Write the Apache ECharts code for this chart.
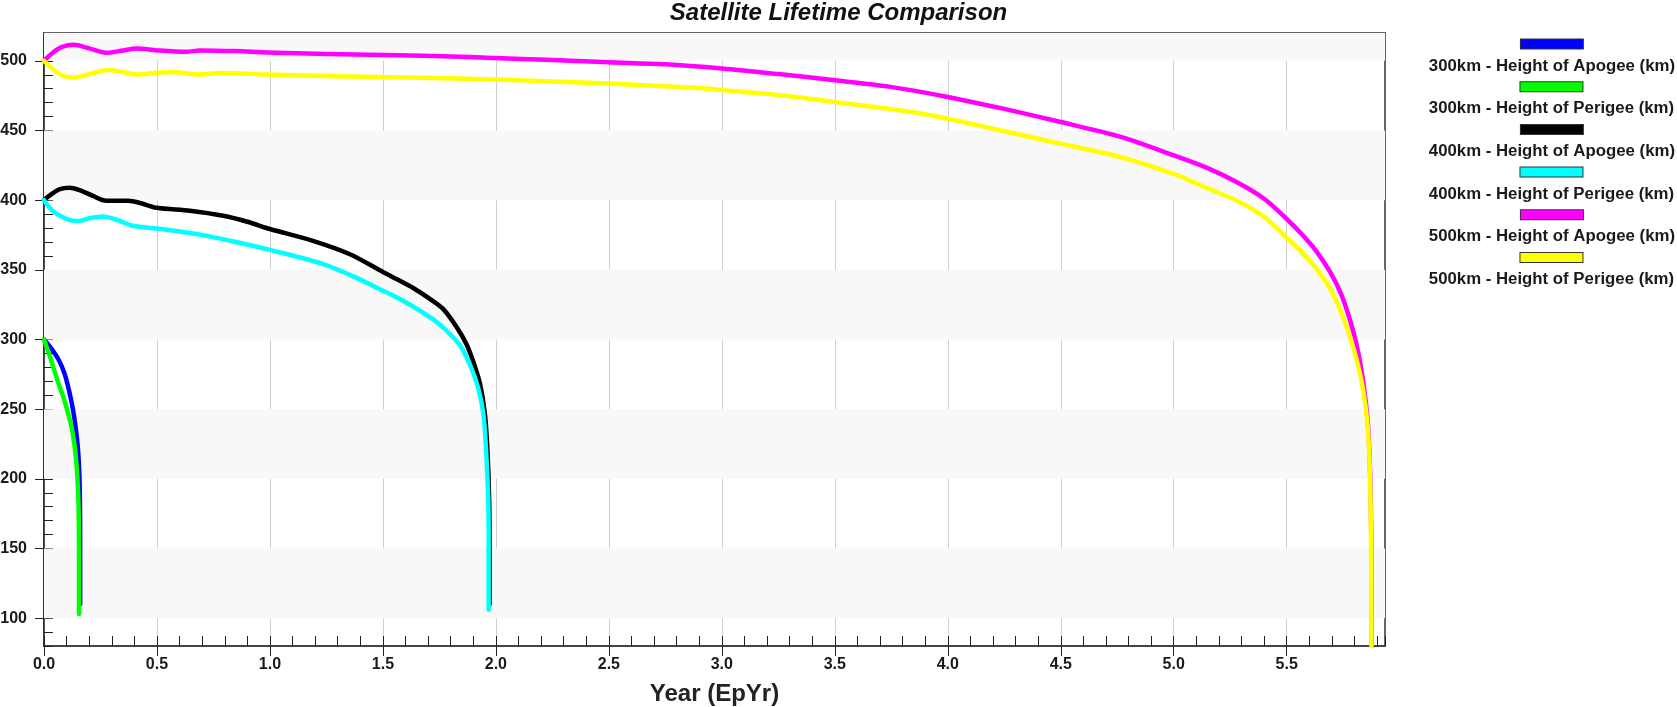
<!DOCTYPE html>
<html><head><meta charset="utf-8">
<script src="https://cdn.jsdelivr.net/npm/echarts@6/dist/echarts.min.js"></script>
<style>html,body{margin:0;padding:0;background:#fff}#c{width:1677px;height:707px}</style>
</head><body><div id="c"></div>
<script>
const titleText = 'Satellite Lifetime Comparison';
const xAxisName = 'Year (EpYr)';
const seriesNames = [
  '300km - Height of Apogee (km)',
  '300km - Height of Perigee (km)',
  '400km - Height of Apogee (km)',
  '400km - Height of Perigee (km)',
  '500km - Height of Apogee (km)',
  '500km - Height of Perigee (km)'
];
const seriesColors = ['#0000ff', '#00ff00', '#000000', '#00ffff', '#ff00ff', '#ffff00'];

const yr300A  = [0, 0.03, 0.063, 0.09, 0.11, 0.128, 0.14, 0.15, 0.156, 0.159, 0.16, 0.16];
const alt300A = [300, 294, 286, 276, 264, 250, 237, 222, 205, 185, 160, 110];

const yr300P  = [0, 0.015, 0.03, 0.045, 0.065, 0.085, 0.105, 0.122, 0.135, 0.145, 0.151, 0.154, 0.155, 0.155];
const alt300P = [300, 293, 286, 278, 268, 259, 248, 237, 224, 208, 190, 170, 140, 103];

const yr400A  = [0, 0.03, 0.07, 0.115, 0.16, 0.218, 0.262, 0.3, 0.373, 0.425, 0.5, 0.646, 0.793, 0.9, 1.0, 1.19, 1.354, 1.5, 1.575, 1.634, 1.7, 1.767, 1.826, 1.87, 1.9, 1.93, 1.951, 1.962, 1.97, 1.972, 1.972];
const alt400A = [400, 404, 408, 409, 407, 403, 400, 399.6, 399.6, 398, 394.5, 392.4, 388.8, 384.5, 379.3, 370.8, 361.2, 348.5, 342.2, 337, 330, 321.8, 309, 296.6, 284, 268, 247, 222, 186, 150, 110];

const yr400P  = [0, 0.04, 0.1, 0.152, 0.2, 0.262, 0.32, 0.395, 0.5, 0.6, 0.72, 0.85, 1.0, 1.236, 1.4, 1.5, 1.575, 1.678, 1.75, 1.796, 1.84, 1.885, 1.922, 1.945, 1.956, 1.966, 1.968, 1.968];
const alt400P = [400, 392, 386.5, 385, 387, 388.3, 386, 381.6, 379.7, 377.5, 374.4, 370, 364.3, 354.1, 343, 335, 329, 319.2, 311, 304, 296, 282, 265, 246, 222, 186, 150, 106];

const yr500A  = [0, 0.04, 0.08, 0.131, 0.2, 0.28, 0.35, 0.41, 0.5, 0.63, 0.69, 0.85, 0.99, 1.25, 1.51, 1.845, 2.0, 2.22, 2.5, 2.75, 3.0, 3.25, 3.5, 3.74, 4.0, 4.25, 4.5, 4.77, 5.0, 5.15, 5.28, 5.4, 5.5, 5.57, 5.63, 5.69, 5.74, 5.78, 5.815, 5.84, 5.858, 5.867, 5.872, 5.875, 5.876];
const alt500A = [500, 506, 510, 511.5, 509, 505.8, 507.5, 508.8, 507.5, 506.5, 507.5, 507, 506, 505, 504.2, 503, 502, 500.8, 499, 497.5, 494.5, 490.5, 486.1, 481.5, 474.1, 465.5, 456.1, 445.2, 432.1, 423, 412.8, 401, 386.5, 375, 363.6, 349, 333, 314, 292, 268, 242, 215, 185, 140, 80];

const yr500P  = [0, 0.04, 0.08, 0.131, 0.2, 0.28, 0.35, 0.41, 0.5, 0.56, 0.69, 0.78, 0.99, 1.29, 1.66, 2.0, 2.5, 2.9, 3.0, 3.25, 3.5, 3.84, 4.0, 4.25, 4.5, 4.75, 5.0, 5.15, 5.28, 5.4, 5.5, 5.57, 5.63, 5.69, 5.74, 5.78, 5.815, 5.84, 5.857, 5.866, 5.871, 5.874, 5.875];
const alt500P = [500, 494, 489.5, 488, 490.5, 493.5, 492, 490.3, 491.5, 492, 490.3, 491.3, 490.2, 489, 487.8, 486.6, 483.7, 480.5, 479, 475.5, 470.5, 463.3, 458.5, 449.5, 440.5, 431.5, 418.9, 408.5, 399.6, 388, 373, 362, 351, 337, 320, 302, 282, 262, 240, 215, 185, 140, 80];

const xMin = 0, xMax = 5.935, xMajorStep = 0.5, xMinorStep = 0.1;
const yMin = 80, yMax = 520, yMinorStep = 10;
const xMajorTicks = [0, 0.5, 1.0, 1.5, 2.0, 2.5, 3.0, 3.5, 4.0, 4.5, 5.0, 5.5];
const yMajorTicks = [100, 150, 200, 250, 300, 350, 400, 450, 500];
const shadedBands = [[100, 150], [200, 250], [300, 350], [400, 450], [500, 520]];

const seriesX = [yr300A, yr300P, yr400A, yr400P, yr500A, yr500P];
const seriesY = [alt300A, alt300P, alt400A, alt400P, alt500A, alt500P];

const FONT = "'Liberation Sans', Arial, sans-serif";
const chart = echarts.init(document.getElementById('c'), null, {renderer: 'canvas'});

const rich = {t: {fontSize: 16.8, fontWeight: 'bold', color: '#1a1a1a', fontFamily: FONT, lineHeight: 35, align: 'center'}};
seriesColors.forEach((c, i) => {
  rich['b' + i] = {width: 62, height: 9, backgroundColor: c, borderColor: '#333', borderWidth: 1, align: 'center'};
});

const series = seriesNames.map((name, i) => ({
  name: name,
  type: 'line',
  xAxisIndex: 0,
  yAxisIndex: 0,
  data: seriesX[i].map((x, j) => [x, seriesY[i][j]]),
  showSymbol: false,
  symbol: 'none',
  smooth: 0.3,
  clip: true,
  color: seriesColors[i],
  lineStyle: {width: 4.5, color: seriesColors[i], cap: 'round', join: 'round'},
  emphasis: {disabled: true},
  z: 3
}));
series.unshift({
  name: '__bands',
  type: 'line',
  data: [],
  silent: true,
  markArea: {
    silent: true,
    itemStyle: {color: '#f8f8f8'},
    data: shadedBands.map(b => [{yAxis: b[0]}, {yAxis: b[1]}])
  },
  z: 0
});

chart.setOption({
  backgroundColor: '#ffffff',
  animation: false,
  title: {
    text: titleText,
    left: 'center',
    top: -4,
    textStyle: {fontSize: 24, fontWeight: 'bold', fontStyle: 'italic', color: '#111', fontFamily: FONT}
  },
  legend: {
    orient: 'vertical',
    right: 2,
    top: 38,
    itemGap: 6.2,
    itemWidth: 0,
    itemHeight: 0,
    padding: 0,
    icon: 'rect',
    data: seriesNames,
    formatter: name => '{b' + seriesNames.indexOf(name) + '|}\n{t|' + name + '}',
    textStyle: {rich: rich, fontFamily: FONT}
  },
  grid: {left: 44, right: 292, top: 33, bottom: 61, containLabel: false, outerBoundsMode: 'none', show: true, borderColor: '#666', borderWidth: 2, backgroundColor: 'transparent'},
  xAxis: [{
    type: 'value', min: xMin, max: xMax, interval: xMajorStep, position: 'bottom',
    name: xAxisName, nameLocation: 'middle', nameGap: 36,
    nameTextStyle: {fontSize: 24, fontWeight: 'bold', color: '#222', fontFamily: FONT},
    axisLine: {show: true, lineStyle: {color: '#444', width: 2}},
    axisTick: {show: true, inside: false, length: 10, customValues: xMajorTicks, lineStyle: {color: '#222', width: 1}},
    axisLabel: {show: true, customValues: xMajorTicks, formatter: v => v.toFixed(1), margin: 11, fontSize: 16, fontWeight: 'bold', color: '#1a1a1a', fontFamily: FONT},
    splitLine: {show: true, lineStyle: {color: '#cfcfcf', width: 1}}
  }, {
    type: 'value', min: xMin, max: xMax, interval: xMinorStep, position: 'bottom', offset: 0,
    axisLine: {show: false},
    axisTick: {show: true, inside: true, length: 10, lineStyle: {color: '#222', width: 1}},
    axisLabel: {show: false},
    splitLine: {show: false}
  }],
  yAxis: [{
    type: 'value', min: yMin, max: yMax, position: 'left',
    axisLine: {show: true, lineStyle: {color: '#222', width: 1.5}},
    axisTick: {show: true, inside: false, length: 9, customValues: yMajorTicks, lineStyle: {color: '#222', width: 1}},
    axisLabel: {show: true, customValues: yMajorTicks, margin: 17, fontSize: 16, fontWeight: 'bold', color: '#1a1a1a', fontFamily: FONT},
    splitLine: {show: false},
    splitArea: {show: false}
  }, {
    type: 'value', min: yMin, max: yMax, interval: yMinorStep, position: 'left', offset: 0,
    axisLine: {show: false},
    axisTick: {show: true, inside: true, length: 9, lineStyle: {color: '#222', width: 1}},
    axisLabel: {show: false},
    splitLine: {show: false}
  }],
  series: series
});
</script></body></html>
